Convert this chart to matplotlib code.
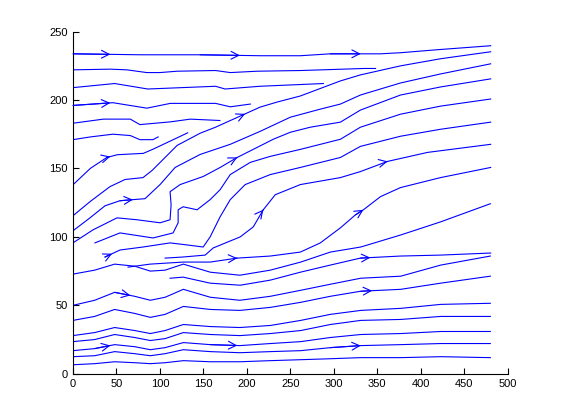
import numpy as np
import matplotlib
matplotlib.use("Agg")
import matplotlib.pyplot as plt

plt.rcParams['font.family'] = ['Liberation Sans', 'DejaVu Sans']

# ---- streamlines (data units) ----
L1_x = [0, 77.2, 146.3, 215.4, 261.5, 296, 353.7, 376.7, 419.3, 480.4]
L1_y = [233.7, 233, 233, 232.3, 232.3, 233.7, 233.7, 234.5, 236.7, 239.6]
L2_x = [0, 43, 62, 85, 100, 120, 164, 181, 212, 262, 335, 348]
L2_y = [222, 222.5, 222, 220, 220, 221, 221.5, 220, 221, 221.5, 223, 223]
L3_x = [0, 48, 86, 164, 175, 215, 288]
L3_y = [209, 212, 208, 210, 208, 210, 212]
L4_x = [0, 46, 85, 112, 164, 181, 204]
L4_y = [196, 198, 194, 197.5, 197.5, 195, 197]
L5_x = [0, 35, 66, 77, 112, 135, 169]
L5_y = [183, 186, 186, 182, 184, 186, 185]
L6_x = [0, 20, 46, 66, 77, 92, 98]
L6_y = [171, 173, 175, 174, 171, 171, 173]
L7_x = [0, 20, 39, 51, 81, 92, 112, 132]
L7_y = [138, 150, 158, 160, 161, 164, 170, 176]

A_x = [0, 19.6, 42.6, 59.9, 80.6, 91, 106, 119.8, 146.3, 163.6, 194.7, 215.4, 235, 261.5, 307.6, 330.6, 376.7, 422.8, 480.4]
A_y = [115.4, 125.7, 136.7, 141.9, 143.3, 148.5, 158, 166.8, 175.7, 180, 188.9, 194.8, 198.5, 202.9, 213.9, 218.3, 224.9, 230.1, 235.2]
B_x = [0, 19.6, 36.9, 54.1, 69.1, 82.9, 100.2, 117.5, 146.3, 180.9, 215.4, 250, 284.5, 307.6, 330.6, 376.7, 422.8, 480.4]
B_y = [104.4, 113.9, 122.7, 126.4, 127.2, 127.9, 138.2, 150.7, 160.2, 167.6, 177.1, 187.4, 193.3, 197, 203.6, 212.4, 219, 226.4]
C_x = [0, 23, 50.7, 73.7, 100.2, 111.7, 112.9, 111.7, 123.3, 149.8, 169.3, 188.9, 212, 230.4, 250, 273, 307.6, 330.6, 376.7, 422.8, 480.4]
C_y = [95.6, 105.1, 113.9, 112.5, 110.3, 112.5, 123.5, 133, 138.2, 144.1, 150.7, 158, 165.4, 171.3, 176.4, 180.1, 183.8, 192.6, 203.6, 209.5, 215.4]
D_x = [25.3, 54.1, 92.2, 115.2, 121, 121, 126.7, 142.8, 157.8, 169.3, 180.9, 203.9, 226.9, 261.5, 307.6, 330.6, 376.7, 422.8, 480.4]
D_y = [95.6, 102.9, 99.2, 102.9, 110.3, 119.8, 122, 119.8, 127.2, 134.5, 145.5, 154.4, 158.8, 163.9, 171.3, 180.1, 189.6, 195.5, 200.7]
E_x = [36.9, 54.1, 80.6, 111.7, 131.3, 149.8, 157.8, 169.3, 180.9, 198.1, 226.9, 261.5, 307.6, 330.6, 376.7, 422.8, 480.4]
E_y = [85.3, 90.4, 92.6, 95.6, 94.1, 92.6, 100, 114.7, 127.2, 138.2, 145.5, 150.7, 158, 166.1, 173.5, 178.6, 183.8]
F_x = [106, 126.7, 152.1, 161.3, 192.4, 207.4, 218.9, 232.7, 261.5, 307.6, 330.6, 361.7, 407.8, 480.4]
F_y = [84.5, 85.3, 86.7, 91.9, 100, 107.3, 119.8, 130.8, 138.2, 143.3, 147.7, 155.1, 161.7, 167.6]
G_x = [63.4, 88.7, 126.7, 157.8, 188.9, 226.9, 261.5, 284.5, 307.6, 324.9, 334.1, 353.7, 376.7, 422.8, 480.4]
G_y = [77.9, 80.1, 81.6, 81.6, 84.5, 86, 88.9, 95.6, 106.6, 116.1, 119.8, 129.4, 136, 143.3, 150.7]
I_x = [111.7, 126.7, 157.8, 192.4, 226.9, 261.5, 296, 330.6, 376.7, 422.8, 480.4]
I_y = [69.8, 70.6, 66.2, 64.7, 68.4, 74.2, 79.4, 84.5, 86, 86.7, 88.2]

# bottom family shares the same x stations
BX = [0, 25, 48, 71, 89, 106, 127, 158, 192, 227, 262, 296, 331, 377, 423, 480]
H_y = [72.8, 75.7, 80.1, 78.6, 75, 75.7, 80.1, 74.2, 72, 75.7, 81.6, 88.9, 92.6, 101.4, 111, 124.2]
Q_y = [50, 53.7, 59.5, 56.6, 53.7, 55.9, 61.7, 55.9, 53.7, 56.6, 61, 65.4, 69.8, 71.3, 79.4, 86]
J_y = [39, 41.9, 47, 44.1, 41.2, 43.4, 49.2, 47, 46.3, 48.5, 52.2, 56.6, 60.3, 61.7, 66.2, 71.3]
K_y = [27.9, 30.1, 33.8, 31.6, 29.4, 31.6, 36, 34.5, 33.8, 35.3, 39, 43.4, 46.3, 47.8, 50.7, 51.5]
Lb_y = [23.5, 25, 28.7, 26.5, 24.3, 25.7, 30.1, 28.7, 27.9, 29.4, 31.6, 36, 39, 39.7, 41.9, 41.9]
M_y = [16.9, 18.4, 21.3, 19.8, 17.6, 19.1, 22.8, 21.3, 20.6, 22.1, 23.5, 26.5, 28.7, 29.4, 30.9, 30.9]
N_y = [12.5, 13.2, 16.2, 14.7, 13.2, 14.7, 17.6, 16.2, 15.4, 16.2, 16.9, 19.1, 20.6, 21.3, 22.1, 22.1]
O_y = [6.6, 7.4, 8.8, 8.1, 7.4, 8.1, 9.6, 8.8, 8.8, 9.6, 10.3, 11, 11.8, 11.8, 12.5, 11.8]

lines = {
    'L1': (L1_x, L1_y), 'L2': (L2_x, L2_y), 'L3': (L3_x, L3_y), 'L4': (L4_x, L4_y),
    'L5': (L5_x, L5_y), 'L6': (L6_x, L6_y), 'L7': (L7_x, L7_y),
    'A': (A_x, A_y), 'B': (B_x, B_y), 'C': (C_x, C_y), 'D': (D_x, D_y),
    'E': (E_x, E_y), 'F': (F_x, F_y), 'G': (G_x, G_y), 'I': (I_x, I_y),
    'H': (BX, H_y), 'Q': (BX, Q_y), 'J': (BX, J_y), 'K': (BX, K_y),
    'Lb': (BX, Lb_y), 'M': (BX, M_y), 'N': (BX, N_y), 'O': (BX, O_y),
}

# arrows: (line, x position of the tip)
arrow_line = ['L1', 'L1', 'L1', 'L4', 'L7', 'B', 'A', 'C', 'E', 'F', 'F', 'G', 'G', 'I', 'J', 'Q', 'M', 'M', 'N']
arrow_x = [43, 192, 331, 43, 43, 69, 198, 189, 45, 219, 362, 189, 334, 342, 344, 66, 43, 189, 331]

BLUE = (0, 0, 1)

fig = plt.figure(figsize=(5.61, 4.2), dpi=100)
ax = fig.add_axes([0.13, 0.11, 0.775, 0.815])

for name, (xs, ys) in lines.items():
    ax.plot(xs, ys, color=BLUE, lw=0.8, solid_joinstyle='round')


def point_on(xs, ys, xt):
    for i in range(len(xs) - 1):
        x0, x1 = xs[i], xs[i + 1]
        if (x0 - xt) * (x1 - xt) <= 0 and x1 != x0:
            t = (xt - x0) / (x1 - x0)
            return (xs[i], ys[i]), (xt, ys[i] + t * (ys[i + 1] - ys[i]))
    return None


for nm, xt in zip(arrow_line, arrow_x):
    xs, ys = lines[nm]
    res = point_on(xs, ys, xt)
    if res is None:
        continue
    tail, tip = res
    ax.annotate('', xy=tip, xytext=tail,
                arrowprops=dict(arrowstyle='->,head_length=0.55,head_width=0.28',
                                color=BLUE, lw=0.8, shrinkA=0, shrinkB=0))

ax.set_xlim(0, 500)
ax.set_ylim(0, 250)
ax.set_xticks(np.arange(0, 501, 50))
ax.set_yticks(np.arange(0, 251, 50))
ax.spines['top'].set_visible(False)
ax.spines['right'].set_visible(False)
ax.tick_params(direction='in', length=4, width=0.8, labelsize=8, colors='black')
for s in ('left', 'bottom'):
    ax.spines[s].set_linewidth(0.8)

fig.savefig('out.png', dpi=100)
